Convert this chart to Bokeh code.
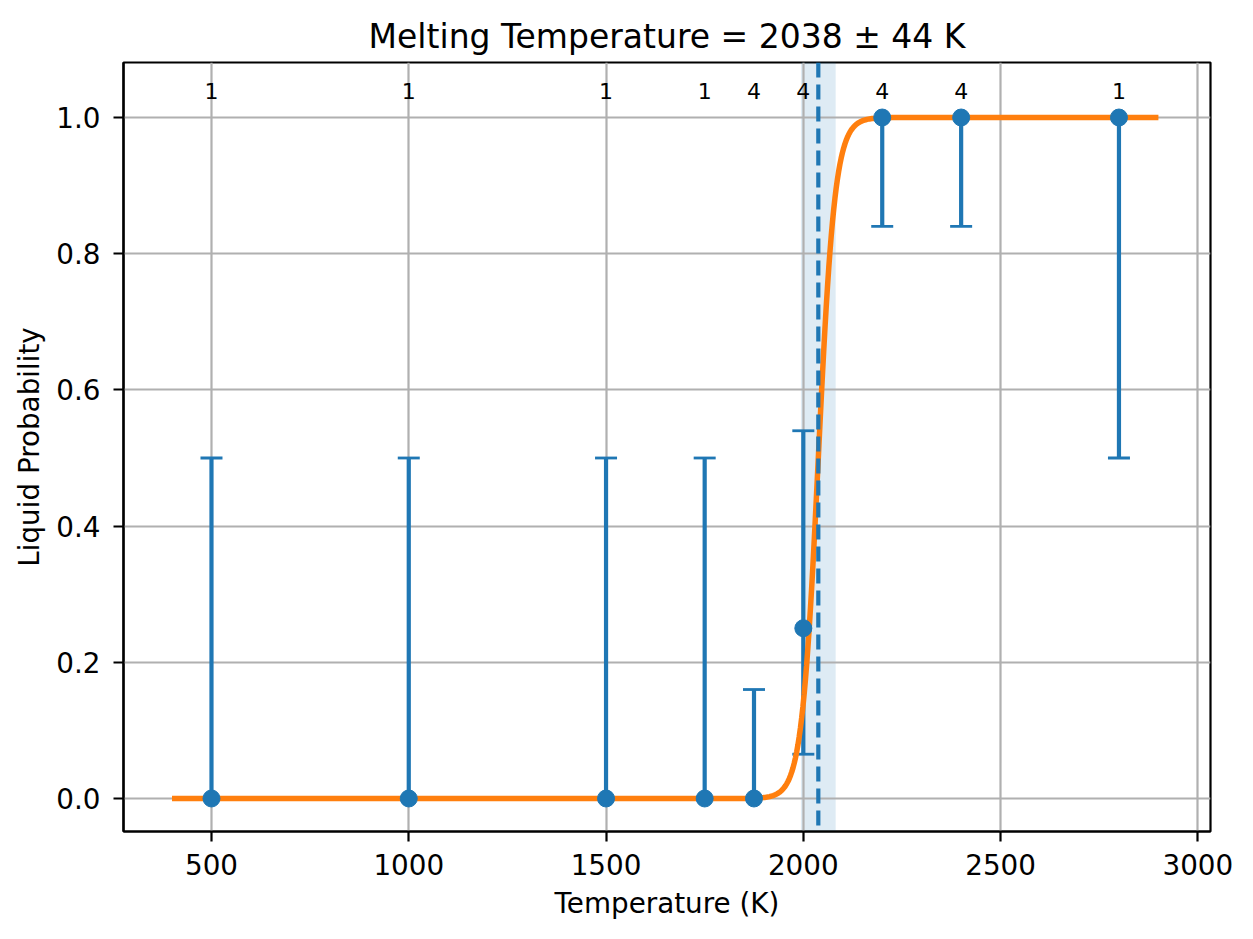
import numpy as np
from bokeh.plotting import figure
from bokeh.models import ColumnDataSource, Range1d, FixedTicker, NumeralTickFormatter, Span
from bokeh.core.properties import value
from bokeh.embed import file_html
from bokeh.resources import INLINE

# ---- data ----
temperatures = [500, 1000, 1500, 1750, 1875, 2000, 2200, 2400, 2800]
liquid_prob = [0.0, 0.0, 0.0, 0.0, 0.0, 0.25, 1.0, 1.0, 1.0]
err_lower = [0.0, 0.0, 0.0, 0.0, 0.0, 0.065, 0.84, 0.84, 0.5]
err_upper = [0.5, 0.5, 0.5, 0.5, 0.16, 0.54, 1.0, 1.0, 1.0]
counts = [1, 1, 1, 1, 4, 4, 4, 4, 1]

melt_T = 2038      # fitted melting temperature (K)
melt_err = 44      # uncertainty (K)
fit_width = 21     # logistic width (K)
fit_T_min, fit_T_max = 400, 2900

x_ticks = [500, 1000, 1500, 2000, 2500, 3000]
y_ticks = [0.0, 0.2, 0.4, 0.6, 0.8, 1.0]

FONT = "DejaVu Sans"
BLUE = "#1f77b4"
ORANGE = "#ff7f0e"

fit_T = np.linspace(fit_T_min, fit_T_max, 800)
fit_P = 1.0 / (1.0 + np.exp(-(fit_T - melt_T) / fit_width))

p = figure(width=1237, height=923, output_backend="svg", toolbar_location=None,
           x_range=Range1d(277, 3032), y_range=Range1d(-0.0485, 1.0808),
           min_border_left=123, min_border_right=27, min_border_top=62, min_border_bottom=92,
           title="Melting Temperature = %d \u00b1 %d K" % (melt_T, melt_err))

p.background_fill_color = "white"
p.border_fill_color = "white"
p.outline_line_color = "black"
p.outline_line_width = 2.2

p.title.align = "center"
p.title.text_font = FONT
p.title.text_font_size = "33px"
p.title.text_font_style = "normal"
p.title.text_color = "black"
p.title.standoff = 14

for ax in (p.xaxis[0], p.yaxis[0]):
    ax.axis_line_color = "black"
    ax.axis_line_width = 2.2
    ax.major_tick_line_color = "black"
    ax.major_tick_line_width = 2.2
    ax.major_tick_out = 10
    ax.major_tick_in = 0
    ax.minor_tick_line_color = None
    ax.major_label_text_font = FONT
    ax.major_label_text_font_size = "27.8px"
    ax.major_label_text_color = "black"
    ax.axis_label_text_font = FONT
    ax.axis_label_text_font_size = "27.8px"
    ax.axis_label_text_font_style = "normal"
    ax.axis_label_text_color = "black"

p.xaxis.axis_label = "Temperature (K)"
p.yaxis.axis_label = "Liquid Probability"
p.xaxis.ticker = FixedTicker(ticks=x_ticks)
p.yaxis.ticker = FixedTicker(ticks=y_ticks)
p.yaxis.formatter = NumeralTickFormatter(format="0.0")
p.xaxis.major_label_standoff = 12
p.yaxis.major_label_standoff = 13
p.xaxis.axis_label_standoff = 9
p.yaxis.axis_label_standoff = 7

p.grid.grid_line_color = "#b0b0b0"
p.grid.grid_line_width = 2.2
p.xgrid.ticker = FixedTicker(ticks=x_ticks)
p.ygrid.ticker = FixedTicker(ticks=y_ticks)

# uncertainty band (below grid)
p.quad(left=[melt_T - melt_err], right=[melt_T + melt_err], bottom=[-10], top=[10],
       fill_color=BLUE, fill_alpha=0.15, line_color=None, level="image")

src = ColumnDataSource(dict(T=temperatures, P=liquid_prob, lo=err_lower, hi=err_upper,
                            lab=[str(c) for c in counts],
                            ly=[1.039] * len(temperatures)))

# error bars
p.segment(x0="T", y0="lo", x1="T", y1="hi", source=src, line_color=BLUE, line_width=4.2)
p.dash(x="T", y="lo", source=src, size=22, line_color=BLUE, line_width=2.8)
p.dash(x="T", y="hi", source=src, size=22, line_color=BLUE, line_width=2.8)

# fit curve
p.line(fit_T, fit_P, line_color=ORANGE, line_width=5.5)

# points
p.scatter(x="T", y="P", source=src, size=17, fill_color=BLUE, line_color=BLUE)

# melting temperature line
p.add_layout(Span(location=melt_T, dimension="height", line_color=BLUE,
                  line_width=4.2, line_dash="15 7"))

# count labels
p.text(x="T", y="ly", text="lab", source=src, text_align="center",
       text_baseline="alphabetic", text_font=value(FONT), text_font_size="22px",
       text_color="black")

open("out.html", "w").write(file_html(p, INLINE))
